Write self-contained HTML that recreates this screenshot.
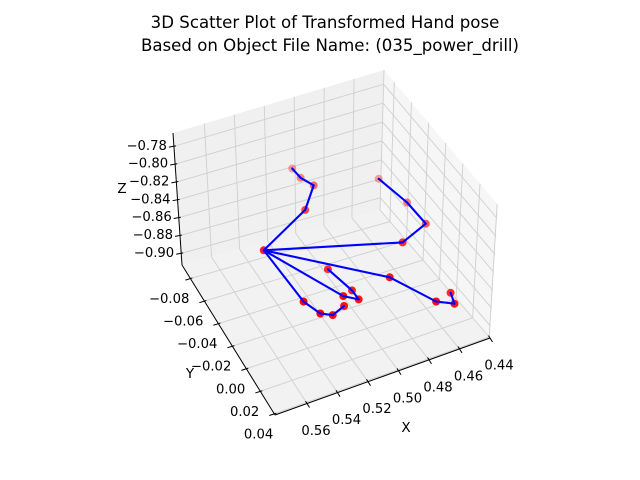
<!DOCTYPE html>
<html><head><meta charset="utf-8"><style>
html,body{margin:0;padding:0;background:#fff;}
svg{display:block;font-family:"DejaVu Sans","Liberation Sans",sans-serif;}
</style></head><body>
<svg id="chart" width="640" height="480" viewBox="0 0 640 480" xmlns="http://www.w3.org/2000/svg">
<rect width="640" height="480" fill="#fff"/>
<text x="325" y="28" text-anchor="middle" font-size="16.6">3D Scatter Plot of Transformed Hand pose</text>
<text x="330" y="51" text-anchor="middle" font-size="16.6">Based on Object File Name: (035_power_drill)</text>
<g id="panes"></g>
<g id="grid"></g>
<g id="axes"></g>
<g id="marks"></g>
<g id="bones"></g>
<text x="406" y="432" text-anchor="middle" font-size="13.5">X</text>
<text x="190" y="378" text-anchor="middle" font-size="13.5">Y</text>
<text x="122" y="193" text-anchor="middle" font-size="13.5">Z</text>
</svg>
<script>
const jointX = [0.548,0.519,0.513,0.522,0.528,0.473,0.461,0.471,0.485,0.487,0.468,0.461,0.464,0.516,0.511,0.514,0.522,0.537,0.532,0.528,0.521];
const jointY = [-0.047,-0.051,-0.052,-0.051,-0.050,-0.012,-0.005,-0.010,-0.020,-0.000,0.025,0.036,0.037,-0.003,0.008,0.005,-0.012,-0.014,-0.001,0.008,0.009];
const jointZ = [-0.861,-0.839,-0.817,-0.802,-0.787,-0.854,-0.832,-0.809,-0.787,-0.869,-0.876,-0.869,-0.854,-0.876,-0.869,-0.861,-0.854,-0.883,-0.883,-0.876,-0.869];
const boneFrom = [0,1,2,3,0,5,6,7,0,9,10,11,0,13,14,15,0,17,18,19];
const boneTo   = [1,2,3,4,5,6,7,8,9,10,11,12,13,14,15,16,17,18,19,20];
const xTicks = [0.44,0.46,0.48,0.50,0.52,0.54,0.56];
const yTicks = [-0.08,-0.06,-0.04,-0.02,0.00,0.02,0.04];
const zTicks = [-0.90,-0.88,-0.86,-0.84,-0.82,-0.80,-0.78];
const xTickLabels = ["0.44","0.46","0.48","0.50","0.52","0.54","0.56"];
const yTickLabels = ["\u22120.08","\u22120.06","\u22120.04","\u22120.02","0.00","0.02","0.04"];
const zTickLabels = ["\u22120.90","\u22120.88","\u22120.86","\u22120.84","\u22120.82","\u22120.80","\u22120.78"];

const XMAX=0.581, XMIN=0.44, YMIN=-0.092, YMAX=0.041, ZMIN=-0.913, ZMAX=-0.765;
const tx = x => (XMAX - x)/(XMAX - XMIN);
const ty = y => (y - YMIN)/(YMAX - YMIN);
const tz = z => (z - ZMIN)/(ZMAX - ZMIN);
const C = {
 '000':[182,265],'010':[275,415],'110':[490,338],'100':[380,210],
 '001':[173,133],'011':[270,282],'111':[498,205],'101':[384,70]
};
function box(a,b,c){
  let r=[0,0];
  for(const i of [0,1])for(const j of [0,1])for(const k of [0,1]){
    const w=(i?a:1-a)*(j?b:1-b)*(k?c:1-c);
    const p=C[''+i+j+k]; r[0]+=w*p[0]; r[1]+=w*p[1];
  }
  return r;
}
function proj(x,y,z){
  const a=tx(x), b=ty(y), c=tz(z);
  return [182 + b*93 + a*215, 265 + b*150 - a*77 - c*135];
}
const NS='http://www.w3.org/2000/svg';
function mk(tag, attrs, parent){
  const e=document.createElementNS(NS,tag);
  for(const k in attrs) e.setAttribute(k, attrs[k]);
  document.getElementById(parent).appendChild(e); return e;
}
function poly(pts){return pts.map(p=>p[0].toFixed(1)+','+p[1].toFixed(1)).join(' ');}
let e;
e=mk('polygon',{points:poly([box(0,0,0),box(0,1,0),box(1,1,0),box(1,0,0)]),fill:'#f2f2f2',stroke:'none'},'panes');
 
e=mk('polygon',{points:poly([box(0,0,0),box(1,0,0),box(1,0,1),box(0,0,1)]),fill:'#f0f0f0',stroke:'none'},'panes');
 
e=mk('polygon',{points:poly([box(1,0,0),box(1,1,0),box(1,1,1),box(1,0,1)]),fill:'#f6f6f6',stroke:'none'},'panes');
 
function gl(p,q,name){
  const l=mk('line',{x1:p[0],y1:p[1],x2:q[0],y2:q[1],stroke:'#cfcfcf','stroke-width':0.9},'grid');
   
}
xTicks.forEach(v=>{const a=tx(v);
  gl(box(a,0,0),box(a,1,0),'x-grid-floor'); gl(box(a,0,0),box(a,0,1),'x-grid-wall');});
yTicks.forEach(v=>{const b=ty(v);
  gl(box(0,b,0),box(1,b,0),'y-grid-floor'); gl(box(1,b,0),box(1,b,1),'y-grid-wall');});
zTicks.forEach(v=>{const c=tz(v);
  gl(box(0,0,c),box(1,0,c),'z-grid-left-wall'); gl(box(1,0,c),box(1,1,c),'z-grid-right-wall');});
function al(p,q,name){
  const l=mk('line',{x1:p[0],y1:p[1],x2:q[0],y2:q[1],stroke:'#000','stroke-width':1},'axes');
   
}
function tl(x,y,s,anchor,name){
  const t=mk('text',{x:x,y:y,'font-size':13.2,'text-anchor':anchor,'dominant-baseline':'central'},'axes');
  t.textContent=s;  
}
al(box(0,1,0),box(1,1,0),'x-axis-line');
al(box(0,0,0),box(0,1,0),'y-axis-line');
al(box(0,0,0),box(0,0,1),'z-axis-line');
xTicks.forEach((v,i)=>{const p=box(tx(v),1,0);
  al([p[0]-1.5,p[1]-2.4],[p[0]+2.5,p[1]+4],'x-tick'); tl(p[0]+9,p[1]+28,xTickLabels[i],'middle','x-tick-label');});
yTicks.forEach((v,i)=>{const p=box(0,ty(v),0);
  al([p[0]+2,p[1]-0.6],[p[0]-5,p[1]+1.6],'y-tick'); tl(p[0]-1,p[1]+21,yTickLabels[i],'end','y-tick-label');});
zTicks.forEach((v,i)=>{const p=box(0,0,tz(v));
  al([p[0]+2,p[1]-0.5],[p[0]-5,p[1]+0.8],'z-tick'); tl(p[0]-7,p[1],zTickLabels[i],'end','z-tick-label');});
jointX.forEach((x,i)=>{
  const p=proj(x,jointY[i],jointZ[i]);
  const op=Math.max(0.35,Math.min(1,1-(jointZ[i]+0.88)*7));
  const c=mk('circle',{cx:p[0].toFixed(1),cy:p[1].toFixed(1),r:4,fill:'#ff0000','fill-opacity':op.toFixed(2)},'marks');
  
  
});
boneFrom.forEach((f,i)=>{
  const t=boneTo[i];
  const p=proj(jointX[f],jointY[f],jointZ[f]), q=proj(jointX[t],jointY[t],jointZ[t]);
  const l=mk('line',{x1:p[0].toFixed(1),y1:p[1].toFixed(1),x2:q[0].toFixed(1),y2:q[1].toFixed(1),stroke:'#0000ff','stroke-width':2.1,'stroke-linecap':'round'},'bones');
  
  
});
</script>
</body></html>
